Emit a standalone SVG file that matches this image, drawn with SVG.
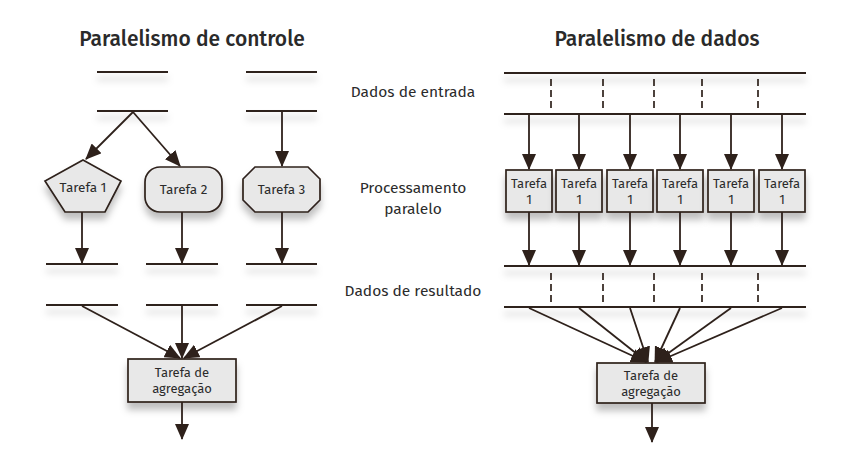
<svg xmlns="http://www.w3.org/2000/svg" width="847" height="468" viewBox="0 0 847 468">
<defs>
<marker id="ah" markerUnits="userSpaceOnUse" markerWidth="16" markerHeight="14" viewBox="0 0 16 14" refX="15" refY="7" orient="auto">
<path d="M0,0 L16,7 L0,14 Z" fill="#2e211b"/>
</marker>
<filter id="sh" filterUnits="userSpaceOnUse" x="0" y="0" width="847" height="468">
<feDropShadow dx="0" dy="7" stdDeviation="3.5" flood-color="#000" flood-opacity="0.25"/>
</filter>
</defs>
<style>
.bar{stroke:#2e211b;stroke-width:2.2;fill:none;filter:url(#sh)}
.ar{stroke:#2e211b;stroke-width:1.8;fill:none;marker-end:url(#ah)}
.dash{stroke:#2e211b;stroke-width:1.7;stroke-dasharray:7,4;fill:none}
.shape{fill:#e8e8e8;stroke:#2e211b;stroke-width:1.7;filter:url(#sh)}
.t{font-family:"Fira Sans","Noto Sans","Open Sans",sans-serif;fill:#2b2b2b;text-anchor:middle}
.title{font-size:21px;font-weight:500;fill:#2a2a2a}
.lbl{font-size:15.5px}
.nt{font-size:13.5px}
.st{font-size:13px}
</style>
<rect width="847" height="468" fill="#fff"/>
<text class="t title" x="192" y="46">Paralelismo de controle</text>
<text class="t title" x="657" y="46">Paralelismo de dados</text>
<g id="labels">
<text class="t lbl" x="413" y="97">Dados de entrada</text>
<text class="t lbl" x="413" y="193">Processamento</text>
<text class="t lbl" x="413" y="214">paralelo</text>
<text class="t lbl" x="413" y="296">Dados de resultado</text>
</g>
<g id="bars">
<line class="bar" x1="97" y1="72" x2="168" y2="72"/>
<line class="bar" x1="246" y1="72" x2="317" y2="72"/>
<line class="bar" x1="97" y1="111" x2="168" y2="111"/>
<line class="bar" x1="246" y1="111" x2="317" y2="111"/>
<line class="bar" x1="46" y1="264" x2="118" y2="264"/>
<line class="bar" x1="146" y1="264" x2="218" y2="264"/>
<line class="bar" x1="246" y1="264" x2="317" y2="264"/>
<line class="bar" x1="46" y1="305" x2="118" y2="305"/>
<line class="bar" x1="146" y1="305" x2="218" y2="305"/>
<line class="bar" x1="246" y1="305" x2="317" y2="305"/>
<line class="bar" x1="504" y1="73" x2="806" y2="73"/>
<line class="bar" x1="504" y1="114" x2="806" y2="114"/>
<line class="bar" x1="504" y1="266" x2="806" y2="266"/>
<line class="bar" x1="504" y1="307" x2="806" y2="307"/>
</g>
<g id="task1"><polygon class="shape" points="83,160 121,181 105,212 65,212 45,181"/><text class="t nt" x="83" y="192">Tarefa 1</text></g>
<g id="task2"><rect class="shape" x="145" y="167" width="77" height="45" rx="15" ry="15"/><text class="t nt" x="183.5" y="194">Tarefa 2</text></g>
<g id="task3"><polygon class="shape" points="255,167 308,167 320,179 320,200 308,212 255,212 243,200 243,179"/><text class="t nt" x="281.5" y="194">Tarefa 3</text></g>
<g id="agg1"><rect class="shape" x="128" y="359" width="108" height="43"/><text class="t st" x="182" y="377">Tarefa de</text><text class="t st" x="182" y="393">agregação</text></g>
<g id="dtasks">
<g id="d1"><rect class="shape" x="506" y="170" width="46" height="42"/><text class="t st" x="529" y="188">Tarefa</text><text class="t st" x="529" y="204">1</text></g>
<g id="d2"><rect class="shape" x="556" y="170" width="46" height="42"/><text class="t st" x="579" y="188">Tarefa</text><text class="t st" x="579" y="204">1</text></g>
<g id="d3"><rect class="shape" x="607" y="170" width="46" height="42"/><text class="t st" x="630" y="188">Tarefa</text><text class="t st" x="630" y="204">1</text></g>
<g id="d4"><rect class="shape" x="657" y="170" width="46" height="42"/><text class="t st" x="680" y="188">Tarefa</text><text class="t st" x="680" y="204">1</text></g>
<g id="d5"><rect class="shape" x="708" y="170" width="46" height="42"/><text class="t st" x="731" y="188">Tarefa</text><text class="t st" x="731" y="204">1</text></g>
<g id="d6"><rect class="shape" x="759" y="170" width="46" height="42"/><text class="t st" x="782" y="188">Tarefa</text><text class="t st" x="782" y="204">1</text></g>
</g>
<g id="agg2"><rect class="shape" x="597" y="363" width="108" height="40"/><text class="t st" x="651" y="380">Tarefa de</text><text class="t st" x="651" y="396">agregação</text></g>
<g id="connectors">
<line class="ar" x1="133" y1="112" x2="86" y2="159"/>
<line class="ar" x1="133" y1="112" x2="180" y2="166"/>
<line class="ar" x1="282" y1="112" x2="282" y2="166"/>
<line class="ar" x1="82" y1="212" x2="82" y2="263"/>
<line class="ar" x1="182" y1="212" x2="182" y2="263"/>
<line class="ar" x1="282" y1="212" x2="282" y2="263"/>
<line class="ar" x1="82" y1="306" x2="180" y2="358"/>
<line class="ar" x1="182" y1="306" x2="182" y2="358"/>
<line class="ar" x1="282" y1="306" x2="184" y2="358"/>
<line class="ar" x1="182" y1="402" x2="182" y2="439"/>
<line class="dash" x1="551" y1="79" x2="551" y2="110"/>
<line class="dash" x1="603" y1="79" x2="603" y2="110"/>
<line class="dash" x1="654" y1="79" x2="654" y2="110"/>
<line class="dash" x1="702" y1="79" x2="702" y2="110"/>
<line class="dash" x1="758" y1="79" x2="758" y2="110"/>
<line class="ar" x1="529" y1="115" x2="529" y2="169"/>
<line class="ar" x1="579" y1="115" x2="579" y2="169"/>
<line class="ar" x1="630" y1="115" x2="630" y2="169"/>
<line class="ar" x1="680" y1="115" x2="680" y2="169"/>
<line class="ar" x1="731" y1="115" x2="731" y2="169"/>
<line class="ar" x1="782" y1="115" x2="782" y2="169"/>
<line class="ar" x1="529" y1="212" x2="529" y2="265"/>
<line class="ar" x1="579" y1="212" x2="579" y2="265"/>
<line class="ar" x1="630" y1="212" x2="630" y2="265"/>
<line class="ar" x1="680" y1="212" x2="680" y2="265"/>
<line class="ar" x1="731" y1="212" x2="731" y2="265"/>
<line class="ar" x1="782" y1="212" x2="782" y2="265"/>
<line class="dash" x1="551" y1="273" x2="551" y2="302"/>
<line class="dash" x1="603" y1="273" x2="603" y2="302"/>
<line class="dash" x1="654" y1="273" x2="654" y2="302"/>
<line class="dash" x1="702" y1="273" x2="702" y2="302"/>
<line class="dash" x1="758" y1="273" x2="758" y2="302"/>
<line class="ar" x1="529" y1="308" x2="646" y2="362"/>
<line class="ar" x1="579" y1="308" x2="647" y2="362"/>
<line class="ar" x1="630" y1="308" x2="648" y2="362"/>
<line class="ar" x1="680" y1="308" x2="655" y2="362"/>
<line class="ar" x1="731" y1="308" x2="656" y2="362"/>
<line class="ar" x1="782" y1="308" x2="657" y2="362"/>
<line class="ar" x1="652" y1="403" x2="652" y2="442"/>
</g>
</svg>
